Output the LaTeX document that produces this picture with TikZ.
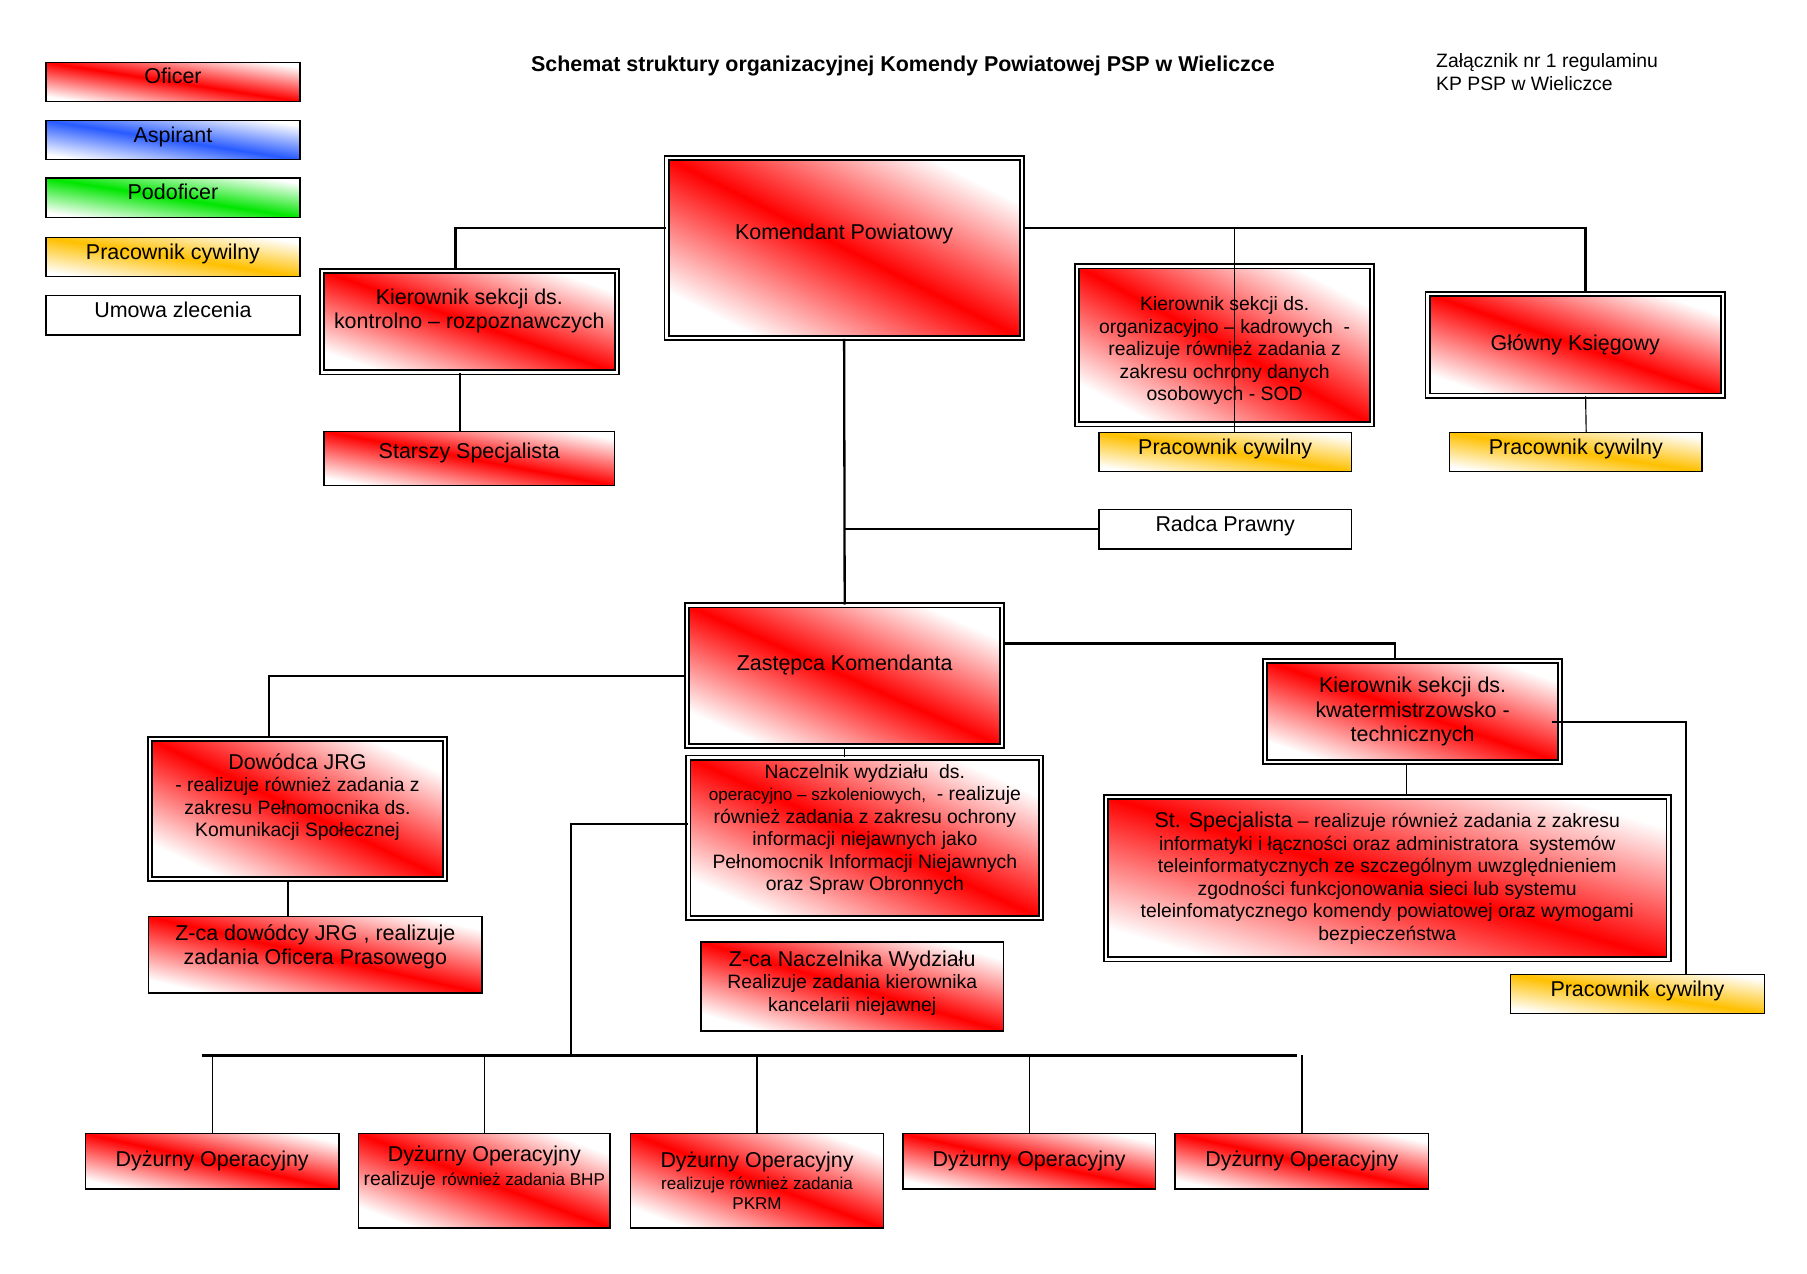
\documentclass[tikz,border=0pt]{standalone}
\usepackage{fontspec}
\setmainfont{Liberation Sans}

\definecolor{oficer}{RGB}{255,0,0}
\definecolor{aspirant}{RGB}{40,90,255}
\definecolor{podoficer}{RGB}{0,230,0}
\definecolor{cywil}{RGB}{255,192,0}

\newcommand{\mala}{\fontsize{8.4}{9.75}\selectfont}
\newcommand{\drobna}{\fontsize{7.4}{8.8}\selectfont}

\tikzset{
  box/.style={draw, line width=0.6pt, align=center, inner sep=1pt, font=\fontsize{9.3}{10.5}\selectfont},
  pas/.style 2 args={box, top color=white, bottom color=white, middle color=#1, shading angle=#2},
  dbl/.style={double, double distance=1pt, line width=0.8pt},
  wyzej/.style={text height=6.7pt, text depth=#1},
  linia/.style={line width=1pt},
  cienka/.style={line width=0.5pt},
}

\begin{document}
\begin{tikzpicture}[x=0.5pt, y=-0.5pt]
\useasboundingbox (0,0) rectangle (1567,1104);

% legenda
\node[pas={oficer}{171.2},    wyzej=5pt, minimum width=110pt, minimum height=17pt] (l1) at (150,71)    {Oficer};
\node[pas={aspirant}{171.2},  wyzej=5pt, minimum width=110pt, minimum height=17pt] (l2) at (150,121.5) {Aspirant};
\node[pas={podoficer}{171.2}, wyzej=5pt, minimum width=110pt, minimum height=17pt] (l3) at (150,171.5) {Podoficer};
\node[pas={cywil}{171.2},     wyzej=5pt, minimum width=110pt, minimum height=17pt] (l4) at (150,223)   {Pracownik cywilny};
\node[box,                    wyzej=5pt, minimum width=110pt, minimum height=17pt] (l5) at (150,273.5) {Umowa zlecenia};

% naglowek
\node[font=\fontsize{9.3}{11}\selectfont\bfseries] (tytul) at (783,57) {Schemat struktury organizacyjnej Komendy Powiatowej PSP w Wieliczce};
\node[font=\mala, align=left, anchor=north west, inner sep=0pt] (zal) at (1245,46) {Załącznik nr 1 regulaminu\\KP PSP w Wieliczce};

% komendant i podlegli
\node[pas={oficer}{153.1}, dbl, wyzej=14pt, minimum width=154pt, minimum height=78pt] (kp) at (732,215) {Komendant Powiatowy};
\node[pas={oficer}{161}, dbl, text depth=11.5pt, minimum width=128pt, minimum height=44pt] (kontr) at (407,279) {Kierownik sekcji ds.\\kontrolno – rozpoznawczych};
\node[pas={oficer}{169.4}, wyzej=6.5pt, minimum width=126pt, minimum height=23.5pt] (starszy) at (407,397.5) {Starszy Specjalista};
\node[pas={oficer}{151.8}, dbl, text height=48pt, text depth=0pt, minimum width=128pt, minimum height=68.5pt, font=\mala] (org) at (1062,299.5) {Kierownik sekcji ds.\\organizacyjno – kadrowych\ \ -\\realizuje również zadania z\\zakresu ochrony danych\\osobowych - SOD};
\node[pas={cywil}{171.2}, wyzej=4.5pt, minimum width=109.5pt, minimum height=17pt] (pc1) at (1062.5,392) {Pracownik cywilny};
\node[pas={oficer}{161}, dbl, wyzej=2pt, minimum width=128pt, minimum height=44pt] (ksieg) at (1366,299) {Główny Księgowy};
\node[pas={cywil}{171.2}, wyzej=4.5pt, minimum width=109.5pt, minimum height=17pt] (pc2) at (1366.5,392) {Pracownik cywilny};
\node[box, wyzej=4.5pt, minimum width=109.5pt, minimum height=17pt] (radca) at (1062.5,459) {Radca Prawny};

% zastepca i podlegli
\node[pas={oficer}{155.9}, dbl, wyzej=11pt, minimum width=136.5pt, minimum height=61pt] (zast) at (732.5,586) {Zastępca Komendanta};
\node[pas={oficer}{161}, dbl, minimum width=128pt, minimum height=44pt] (kwat) at (1225,617) {Kierownik sekcji ds.\\kwatermistrzowsko -\\technicznych};
\node[pas={oficer}{163.9}, dbl, minimum width=244pt, minimum height=70.5pt, font=\mala] (stspec) at (1203,761.5) {{\fontsize{9.3}{10}\selectfont St. Specjalista} – realizuje również zadania z zakresu\\informatyki i łączności oraz administratora\ \ systemów\\teleinformatycznych ze szczególnym uwzględnieniem\\zgodności funkcjonowania sieci lub systemu\\teleinfomatycznego komendy powiatowej oraz wymogami\\bezpieczeństwa};
\node[pas={cywil}{171.2}, wyzej=5pt, minimum width=110pt, minimum height=17pt] (pc3) at (1420,862) {Pracownik cywilny};
\node[pas={oficer}{154.7}, dbl, text depth=12pt, minimum width=128pt, minimum height=60.5pt, font=\mala] (dowodca) at (258,701.5) {{\fontsize{9.3}{10}\selectfont Dowódca JRG}\\- realizuje również zadania z\\zakresu Pełnomocnika ds.\\Komunikacji Społecznej};
\node[pas={oficer}{167.1}, text depth=9pt, minimum width=144.5pt, minimum height=33pt] (zcadow) at (273.5,828) {Z-ca dowódcy JRG , realizuje\\zadania Oficera Prasowego};
\node[pas={oficer}{155.6}, dbl, text depth=9pt, minimum width=153pt, minimum height=69.5pt, font=\mala] (nacz) at (750,726.5) {Naczelnik wydziału\ \ ds.\\{\drobna operacyjno – szkoleniowych,}\ \ - realizuje\\również zadania z zakresu ochrony\\informacji niejawnych jako\\Pełnomocnik Informacji Niejawnych\\oraz Spraw Obronnych};
\node[pas={oficer}{163.6}, text depth=5pt, minimum width=131pt, minimum height=38.5pt, font=\mala] (zcanacz) at (739,855.5) {{\fontsize{9.3}{10}\selectfont Z-ca Naczelnika Wydziału}\\Realizuje zadania kierownika\\kancelarii niejawnej};

% dyzurni
\node[pas={oficer}{167.7}, wyzej=2pt, minimum width=110pt, minimum height=24pt] (d1) at (184,1007) {Dyżurny Operacyjny};
\node[pas={oficer}{159.4}, text depth=13pt, minimum width=109pt, minimum height=41pt] (d2) at (420,1024) {Dyżurny Operacyjny\\{\mala realizuje} {\drobna również zadania BHP}};
\node[pas={oficer}{159.4}, minimum width=109.5pt, minimum height=41pt] (d3) at (656.5,1024) {Dyżurny Operacyjny\\[-1pt]{\drobna realizuje również zadania}\\[-2pt]{\drobna PKRM}};
\node[pas={oficer}{167.7}, wyzej=2pt, minimum width=109.5pt, minimum height=24pt] (d4) at (892.5,1007) {Dyżurny Operacyjny};
\node[pas={oficer}{167.7}, wyzej=2pt, minimum width=110pt, minimum height=24pt] (d5) at (1129,1007) {Dyżurny Operacyjny};

% polaczenia
\coordinate (szyna) at ([yshift=8.5pt]kp.east);
\draw[linia] ([yshift=8.5pt]kp.west) -| ([xshift=-6pt]kontr.north);
\draw[linia] ([xshift=-4pt]kontr.south) -- ([xshift=-4pt]starszy.north);
\draw[linia] (szyna) -| ([xshift=4.5pt]ksieg.north);
\draw[cienka] ([xshift=4pt]pc1.north) -- ([xshift=4pt]pc1.north |- szyna);
\draw[cienka] ([xshift=4.5pt]ksieg.south) -- ([xshift=4.5pt]pc2.north);
\draw[linia] (kp.south) -- (zast.north);
\draw[linia] (kp.south |- radca.west) -- (radca.west);
\draw[linia] ([yshift=14pt]zast.east) -| ([xshift=-7.5pt]kwat.north);
\draw[linia] (zast.west) -| ([xshift=-12.5pt]dowodca.north);
\draw[cienka] (zast.south) -- (zast.south |- nacz.north);
\draw[linia] ([yshift=-4.5pt,xshift=-4pt]kwat.east) -| ([xshift=21pt]pc3.north);
\draw[cienka] ([xshift=-2.5pt]kwat.south) -- ([xshift=-2.5pt]kwat.south |- stspec.north);
\draw[linia] ([xshift=-4pt]dowodca.south) -- ([xshift=-4pt]dowodca.south |- zcadow.north);
\coordinate (szyna2) at (495,915);
\draw[linia] ([yshift=6pt]nacz.west) -| (szyna2);
\draw[line width=1.2pt] ([xshift=-4.5pt]d1.north |- szyna2) -- ([xshift=-2pt]d5.north |- szyna2);
\foreach \d in {d1,d2,d3,d4,d5}
  \draw[cienka] (\d.north |- szyna2) -- (\d.north);
\end{tikzpicture}
\end{document}
